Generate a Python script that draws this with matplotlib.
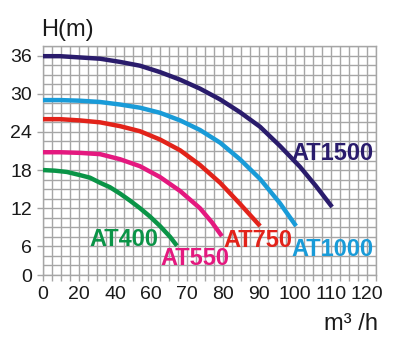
import numpy as np
import matplotlib.pyplot as plt

plt.rcParams['font.family'] = ['Liberation Sans', 'DejaVu Sans']

# flow (m3/h) and head (m)
q_400 = [0, 6.7, 13.3, 20.6, 26.1, 31.7, 37.2, 42.8, 48.3, 53.9, 59.4, 62.5, 65.3, 67.2]
h_400 = [18.0, 17.9, 17.7, 17.2, 16.8, 16.0, 15.3, 14.3, 13.2, 12.0, 10.7, 9.2, 7.5, 6.1]
q_550 = [0, 9.4, 20.6, 31.7, 42.8, 53.9, 62.5, 68.1, 73.6, 76.9, 79.7]
h_550 = [20.8, 20.8, 20.7, 20.5, 19.7, 18.6, 16.9, 14.7, 12.0, 9.8, 7.6]
q_750 = [0, 9.4, 20.6, 31.7, 42.8, 53.9, 62.5, 68.1, 73.6, 79.2, 84.7, 90.3]
h_750 = [26.0, 26.0, 25.8, 25.5, 24.9, 24.1, 22.8, 21.1, 18.8, 16.0, 12.7, 9.2]
q_1000 = [0, 9.4, 20.6, 31.7, 42.8, 53.9, 62.5, 68.1, 73.6, 79.2, 84.7, 90.3, 95.8, 100.3]
h_1000 = [29.0, 29.0, 28.9, 28.7, 28.3, 27.8, 27.0, 25.8, 24.3, 22.3, 19.7, 16.6, 12.8, 9.2]
q_1500 = [0, 9.4, 20.6, 31.7, 42.8, 53.9, 62.5, 68.1, 73.6, 79.2, 84.7, 90.3, 95.8, 101.4, 105.8, 110.3]
h_1500 = [35.9, 35.9, 35.7, 35.5, 35.0, 34.4, 33.4, 32.2, 30.8, 29.1, 27.1, 24.8, 21.8, 18.5, 15.5, 12.2]

names = ['AT400', 'AT550', 'AT750', 'AT1000', 'AT1500']
colors = ['#0a9447', '#e4197f', '#e2231a', '#199bd8', '#2a1c6c']

x_tick_labels = [0, 20, 40, 60, 70, 80, 90, 100, 110, 120]
y_tick_labels = [0, 6, 12, 18, 24, 30, 36]

# the printed axes are not linear: value at each grid cell
x_cells = [0, 4, 8, 12, 16, 20, 24, 28, 32, 36, 40]
x_cell_vals = [0, 20, 40, 60, 70, 80, 90, 100, 110, 120, 130]
y_cells = [0, 3, 7, 11, 15, 19, 23, 27]
y_cell_vals = [0, 6, 12, 18, 24, 30, 36, 42]


def fx(v):
    return np.interp(v, x_cell_vals, x_cells)


def ix(c):
    return np.interp(c, x_cells, x_cell_vals)


def fy(v):
    return np.interp(v, y_cell_vals, y_cells)


def iy(c):
    return np.interp(c, y_cells, y_cell_vals)


fig = plt.figure(figsize=(3.96, 3.41), dpi=100)
ax = fig.add_axes([0.1086, 0.1935, 0.8409, 0.6716])
ax.set_xscale('function', functions=(fx, ix))
ax.set_yscale('function', functions=(fy, iy))
ax.set_xlim(0, ix(37))
ax.set_ylim(0, iy(24))

grid_col = '#a6a6a6'
ax.set_xticks(x_tick_labels)
ax.set_xticklabels([str(v) for v in x_tick_labels])
ax.set_yticks(y_tick_labels)
ax.set_yticklabels([str(v) for v in y_tick_labels])
ax.set_xticks(ix(np.arange(38)), minor=True)
ax.set_yticks(iy(np.arange(25)), minor=True)
ax.grid(True, which='both', color=grid_col, lw=1.0)
ax.set_axisbelow(True)
ax.tick_params(axis='x', which='both', length=4, color=grid_col, width=1.0,
               labelsize=14, pad=4, labelcolor='#1a1a1a')
ax.tick_params(axis='y', which='major', length=4, color=grid_col, width=1.0,
               labelsize=14, pad=4, labelcolor='#1a1a1a')
ax.tick_params(axis='y', which='minor', length=0)
for s in ax.spines.values():
    s.set_color(grid_col)
    s.set_linewidth(1.0)

curves = [(q_400, h_400), (q_550, h_550), (q_750, h_750), (q_1000, h_1000), (q_1500, h_1500)]
for (q, h), c in zip(curves, colors):
    ax.plot(q, h, color=c, lw=3.2, solid_capstyle='butt', solid_joinstyle='round', zorder=3)

# curve labels (x centre, baseline)
label_pos = [(45, 6.06), (72.2, 2.1), (89.7, 5.87), (110.3, 3.98), (110.3, 19.6)]
for name, c, (lx, ly) in zip(names, colors, label_pos):
    ax.text(lx, ly, name, color=c, fontsize=17, fontweight='bold',
            ha='center', va='baseline', zorder=4)

fig.text(0.1035, 0.894, 'H(m)', fontsize=17, color='#1a1a1a', ha='left', va='baseline')
fig.text(0.955, 0.032, 'm\u00b3 /h', fontsize=17, color='#1a1a1a', ha='right', va='baseline')

fig.savefig('out.png', dpi=100)
